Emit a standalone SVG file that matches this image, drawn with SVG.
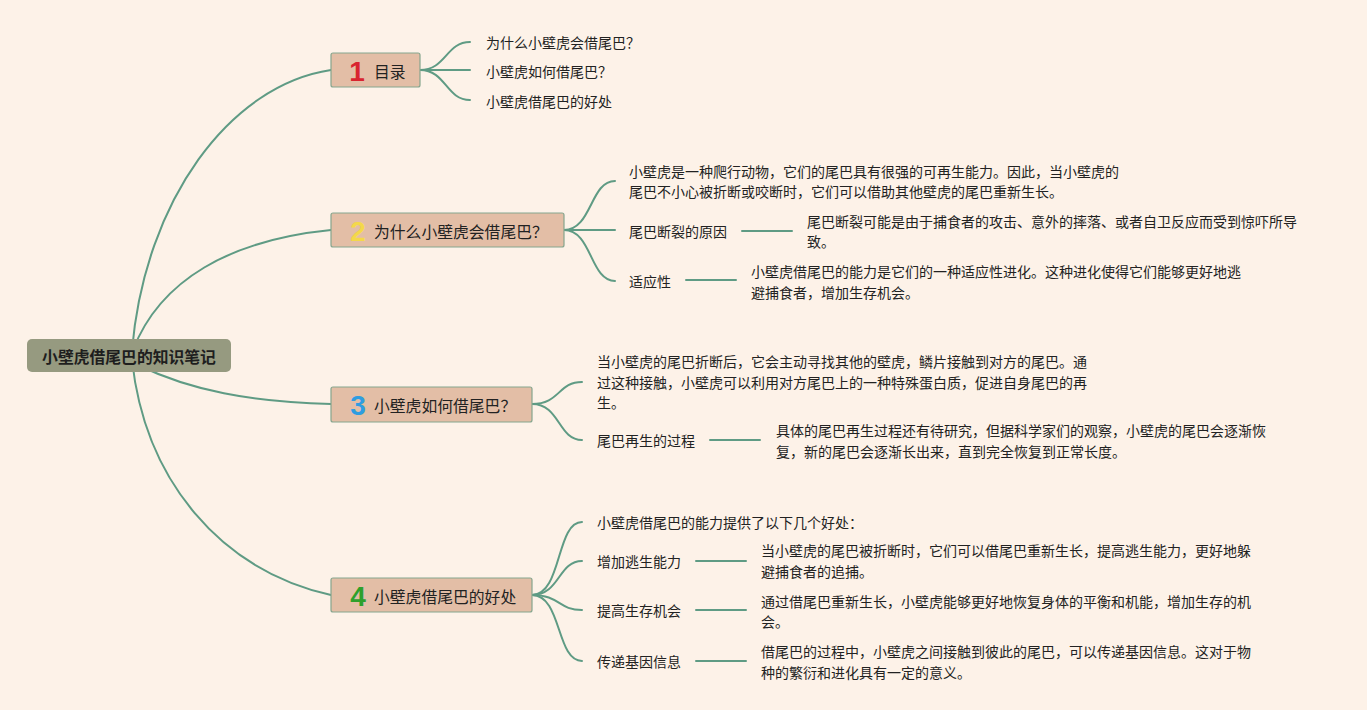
<svg xmlns="http://www.w3.org/2000/svg" width="1367" height="710" viewBox="0 0 1367 710">
<style>
text{text-spacing-trim:space-all}
.t{font-family:"Noto Sans CJK SC","Liberation Sans",sans-serif;font-size:14px;fill:#222;dominant-baseline:central}
.mt{font-family:"Noto Sans CJK SC","Liberation Sans",sans-serif;font-size:15.8px;fill:#222;dominant-baseline:central}
.rt{font-family:"Noto Sans CJK SC","Liberation Sans",sans-serif;font-size:15.8px;font-weight:bold;fill:#1e1e1e;dominant-baseline:central;text-anchor:middle}
.num{font-family:"Liberation Sans",sans-serif;font-size:28px;font-weight:bold;dominant-baseline:central;text-anchor:middle}
.box{fill:#e3bea6;stroke:#86a58d;stroke-width:1.2}
.c{fill:none;stroke:#5f9b84;stroke-width:2;stroke-linecap:round}
</style>
<rect width="1367" height="710" fill="#fdf2e8"/>
<g id="connectors">
<path class="c" d="M132,350 C145,200 230,85 331,70"/>
<path class="c" d="M133,350 C160,280 230,240 331,230"/>
<path class="c" d="M140,366 C190,390 250,402 331,404"/>
<path class="c" d="M132,360 C145,480 220,570 331,595"/>
<path class="c" d="M420,70 C446,70 446,42 470,42"/>
<path class="c" d="M420,70 L470,70"/>
<path class="c" d="M420,70 C446,70 446,100 470,100"/>
<path class="c" d="M564,230 C592,230 590,181 615,181"/>
<path class="c" d="M564,230 L615,230"/>
<path class="c" d="M564,230 C592,230 590,281 615,281"/>
<path class="c" d="M742,231 L792,231"/>
<path class="c" d="M686,280 L736,280"/>
<path class="c" d="M532,404 C560,404 558,382 582,382"/>
<path class="c" d="M532,404 C560,404 558,440 582,440"/>
<path class="c" d="M710,440 L760,440"/>
<path class="c" d="M532,595 C562,595 556,522 582,522"/>
<path class="c" d="M532,595 C560,595 558,561 582,561"/>
<path class="c" d="M532,595 C560,595 558,610 582,610"/>
<path class="c" d="M532,595 C562,595 556,661 582,661"/>
<path class="c" d="M696,561 L746,561"/>
<path class="c" d="M696,610 L746,610"/>
<path class="c" d="M696,661 L746,661"/>
</g>
<g id="root">
<rect x="27" y="339" width="204" height="33" rx="5" fill="#969a80"/>
<text class="rt" x="129" y="356">小壁虎借尾巴的知识笔记</text>
</g>
<g id="n1">
<rect class="box" x="331" y="53" width="89" height="34" rx="2"/>
<text class="num" x="357" y="71" fill="#d9242f">1</text>
<text class="mt" x="374" y="71">目录</text>
</g>
<g id="n1a"><text class="t" x="486" y="42">为什么小壁虎会借尾巴？</text></g>
<g id="n1b"><text class="t" x="486" y="71">小壁虎如何借尾巴？</text></g>
<g id="n1c"><text class="t" x="486" y="101">小壁虎借尾巴的好处</text></g>
<g id="n2">
<rect class="box" x="331" y="213" width="233" height="34" rx="2"/>
<text class="num" x="358" y="231" fill="#f4d84a">2</text>
<text class="mt" x="374" y="231">为什么小壁虎会借尾巴？</text>
</g>
<g id="n2a">
<text class="t" x="629" y="171">小壁虎是一种爬行动物，它们的尾巴具有很强的可再生能力。因此，当小壁虎的</text>
<text class="t" x="629" y="191">尾巴不小心被折断或咬断时，它们可以借助其他壁虎的尾巴重新生长。</text>
</g>
<g id="n2b"><text class="t" x="629" y="231">尾巴断裂的原因</text></g>
<g id="n2b1">
<text class="t" x="807" y="221">尾巴断裂可能是由于捕食者的攻击、意外的摔落、或者自卫反应而受到惊吓所导</text>
<text class="t" x="807" y="241">致。</text>
</g>
<g id="n2c"><text class="t" x="629" y="281">适应性</text></g>
<g id="n2c1">
<text class="t" x="751" y="271">小壁虎借尾巴的能力是它们的一种适应性进化。这种进化使得它们能够更好地逃</text>
<text class="t" x="751" y="292">避捕食者，增加生存机会。</text>
</g>
<g id="n3">
<rect class="box" x="331" y="387" width="201" height="35" rx="2"/>
<text class="num" x="358" y="405" fill="#2f9de0">3</text>
<text class="mt" x="374" y="405">小壁虎如何借尾巴？</text>
</g>
<g id="n3a">
<text class="t" x="597" y="361">当小壁虎的尾巴折断后，它会主动寻找其他的壁虎，鳞片接触到对方的尾巴。通</text>
<text class="t" x="597" y="382">过这种接触，小壁虎可以利用对方尾巴上的一种特殊蛋白质，促进自身尾巴的再</text>
<text class="t" x="597" y="402">生。</text>
</g>
<g id="n3b"><text class="t" x="597" y="440">尾巴再生的过程</text></g>
<g id="n3b1">
<text class="t" x="776" y="430">具体的尾巴再生过程还有待研究，但据科学家们的观察，小壁虎的尾巴会逐渐恢</text>
<text class="t" x="776" y="451">复，新的尾巴会逐渐长出来，直到完全恢复到正常长度。</text>
</g>
<g id="n4">
<rect class="box" x="331" y="578" width="201" height="34" rx="2"/>
<text class="num" x="358" y="596" fill="#2ea02c">4</text>
<text class="mt" x="374" y="596">小壁虎借尾巴的好处</text>
</g>
<g id="n4a"><text class="t" x="597" y="522">小壁虎借尾巴的能力提供了以下几个好处：</text></g>
<g id="n4b"><text class="t" x="597" y="561">增加逃生能力</text></g>
<g id="n4b1">
<text class="t" x="761" y="550">当小壁虎的尾巴被折断时，它们可以借尾巴重新生长，提高逃生能力，更好地躲</text>
<text class="t" x="761" y="571">避捕食者的追捕。</text>
</g>
<g id="n4c"><text class="t" x="597" y="610">提高生存机会</text></g>
<g id="n4c1">
<text class="t" x="761" y="601">通过借尾巴重新生长，小壁虎能够更好地恢复身体的平衡和机能，增加生存的机</text>
<text class="t" x="761" y="621">会。</text>
</g>
<g id="n4d"><text class="t" x="597" y="661">传递基因信息</text></g>
<g id="n4d1">
<text class="t" x="761" y="651">借尾巴的过程中，小壁虎之间接触到彼此的尾巴，可以传递基因信息。这对于物</text>
<text class="t" x="761" y="672">种的繁衍和进化具有一定的意义。</text>
</g>
</svg>
